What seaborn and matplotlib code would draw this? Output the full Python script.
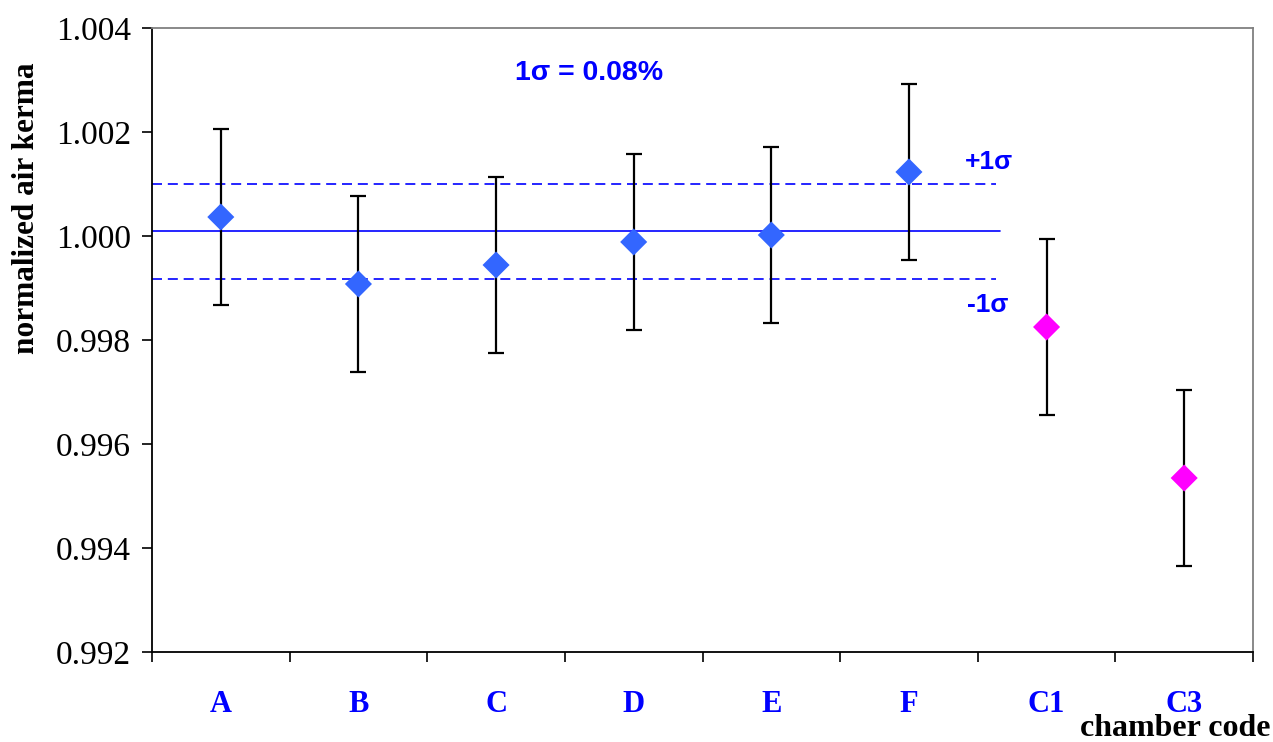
import matplotlib
matplotlib.use("Agg")
import matplotlib.pyplot as plt
import seaborn as sns
import pandas as pd
from matplotlib.ticker import FixedLocator, FormatStrFormatter

# ---- data ----
chambers = ["A", "B", "C", "D", "E", "F", "C1", "C3"]
kerma = [1.000365, 0.999077, 0.999442, 0.999885, 1.000019, 1.001231, 0.998250, 0.995346]
uncert = [0.00169, 0.00169, 0.00169, 0.00169, 0.00169, 0.00169, 0.00169, 0.00169]
group = ["lab", "lab", "lab", "lab", "lab", "lab", "ref", "ref"]
mean_value = 1.00009
sigma_band = 0.00091
y_ticks = [0.992, 0.994, 0.996, 0.998, 1.000, 1.002, 1.004]

df = pd.DataFrame({"chamber": chambers, "kerma": kerma, "err": uncert, "group": group})
df["pos"] = range(len(df))

sns.set_theme(style="white")
plt.rcParams["font.family"] = ["Liberation Serif", "DejaVu Serif"]

fig = plt.figure(figsize=(12.73, 7.42), dpi=100)
ax = fig.add_axes([152/1273, 1 - 652/742, (1253 - 152)/1273, (652 - 28)/742])

# error bars
ax.errorbar(df["pos"], df["kerma"], yerr=df["err"], fmt="none", ecolor="black",
            elinewidth=1.6, capsize=6, capthick=1.6, zorder=2)

# mean and +-1 sigma lines
x_end = 5.66
ax.plot([-0.5, x_end], [mean_value, mean_value], color="#0000FF", lw=1.2, zorder=1)
ax.plot([-0.5, x_end - 0.03], [mean_value + sigma_band] * 2, color="#0000FF", lw=1.2,
        dashes=(6, 3.5), zorder=1)
ax.plot([-0.5, x_end - 0.03], [mean_value - sigma_band] * 2, color="#0000FF", lw=1.2,
        dashes=(6, 3.5), zorder=1)

# markers
sns.scatterplot(data=df, x="pos", y="kerma", hue="group",
                palette={"lab": "#3366FF", "ref": "#FF00FF"},
                marker="D", s=190, edgecolor="none", legend=False, ax=ax, zorder=3)

# annotations
sans = ["Liberation Sans", "DejaVu Sans"]
ax.text(2.675, 1.003135, "1σ = 0.08%", color="#0000FF", fontsize=20.5, fontweight="bold",
        family=sans, ha="center", va="center")
ax.text(5.41, 1.001425, "+1σ", color="#0000FF", fontsize=19, fontweight="bold",
        family=sans, ha="left", va="center")
ax.text(5.42, 0.998665, "-1σ", color="#0000FF", fontsize=19, fontweight="bold",
        family=sans, ha="left", va="center")

# axes
ax.set_xlim(-0.5, len(chambers) - 0.5)
ax.set_ylim(0.992, 1.004)
ax.yaxis.set_major_locator(FixedLocator(y_ticks))
ax.yaxis.set_major_formatter(FormatStrFormatter("%.3f"))
ax.tick_params(axis="y", which="major", direction="out", length=7, width=1.2,
               colors="black", labelcolor="black", labelsize=24, pad=8, left=True)
ax.set_xticks(range(len(chambers)))
ax.set_xticklabels(chambers)
ax.set_xticks([i - 0.5 for i in range(len(chambers) + 1)], minor=True)
ax.tick_params(axis="x", which="major", length=0, pad=27.5, labelsize=22,
               labelcolor="#0000FF")
ax.tick_params(axis="x", which="minor", direction="out", length=7, width=1.2,
               colors="black", bottom=True)
for lab in ax.get_xticklabels():
    lab.set_fontweight("bold")

ax.set_xlabel("")
ax.set_ylabel("normalized air kerma", fontsize=22.5, fontweight="bold", color="black")
ax.yaxis.set_label_coords(-0.101, 0.7115)

for side in ["left", "bottom"]:
    ax.spines[side].set_color("black")
    ax.spines[side].set_linewidth(1.3)
for side in ["top", "right"]:
    ax.spines[side].set_color("#808080")
    ax.spines[side].set_linewidth(1.3)
ax.grid(False)

fig.text(1270/1273, 1 - 728/742, "chamber code", fontsize=23, fontweight="bold",
         ha="right", va="center", color="black")

fig.savefig("out.png", dpi=100)
